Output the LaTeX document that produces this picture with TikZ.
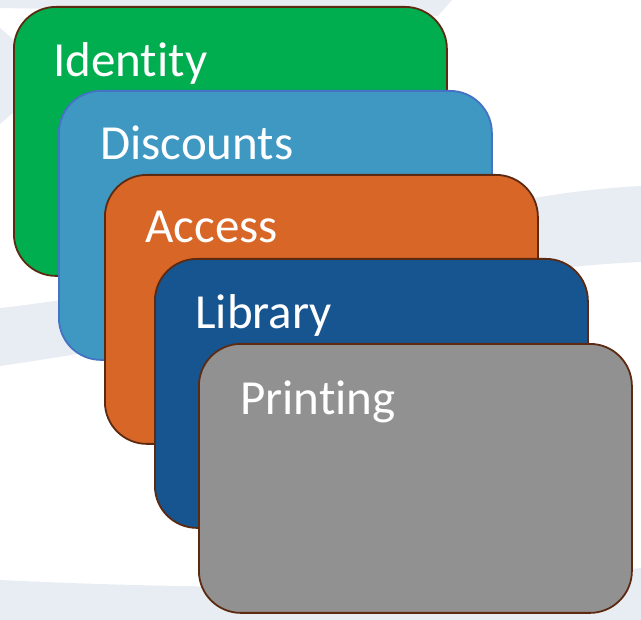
\documentclass[tikz,border=0pt]{standalone}
\usepackage{fontspec}
\setmainfont[Ligatures = NoCommon]{Carlito}
\usepackage{tikz}

\definecolor{bandgray}{HTML}{E8ECF3}
\definecolor{rimbrown}{HTML}{5B2A10}
\definecolor{idgreen}{HTML}{00AE4F}
\definecolor{discblue}{HTML}{3E98C1}
\definecolor{discrim}{HTML}{4472C4}
\definecolor{accorange}{HTML}{D86627}
\definecolor{libblue}{HTML}{175591}
\definecolor{printgray}{HTML}{919191}

\tikzset{
    card/.style = {draw = rimbrown, line width = 1.8pt, rounded corners = 42pt,
        minimum width = 433pt, minimum height = 269pt, anchor = north west,
        inner sep = 0pt},
    cardtext/.style = {text = white, anchor = base west, inner sep = 0pt,
        font = \fontsize{49}{55}\selectfont}
}

\begin{document}
\begin{tikzpicture}[x = 1pt, y = -1pt]
        \useasboundingbox (0,0) rectangle (641,620);
        % background swooshes
        \fill [bandgray] (0,0) -- (452,0) -- (438,16) -- (0,8) -- cycle;
        \fill [bandgray] (0,28) -- (14,40) -- (14,112) -- (0,124) -- cycle;
        \fill [bandgray] (0,308) .. controls (250,280) and (450,195) .. (641,186)
            -- (641,262) .. controls (450,270) and (250,330) .. (0,366) -- cycle;
        \fill [bandgray] (0,580) .. controls (250,592) and (450,588) .. (641,568)
            -- (641,620) -- (0,620) -- cycle;
        % the stacked cards
        \node [card, fill = idgreen] (identity) at (13,6) {};
        \node [cardtext] (identitytxt) at ([xshift = 40pt, yshift = -71pt] identity.north west) {Identity};
        \node [card, fill = discblue, draw = discrim] (discounts) at (58,90) {};
        \node [cardtext] (discountstxt) at ([xshift = 42pt, yshift = -70pt] discounts.north west) {Discounts};
        \node [card, fill = accorange] (access) at (104,174) {};
        \node [cardtext] (accesstxt) at ([xshift = 41pt, yshift = -69pt] access.north west) {Access};
        \node [card, fill = libblue] (library) at (154,258) {};
        \node [cardtext] (librarytxt) at ([xshift = 41pt, yshift = -71pt] library.north west) {Library};
        \node [card, fill = printgray] (printing) at (198,343) {};
        \node [cardtext] (printingtxt) at ([xshift = 42pt, yshift = -72pt] printing.north west) {Printing};
    \end{tikzpicture}
\end{document}
